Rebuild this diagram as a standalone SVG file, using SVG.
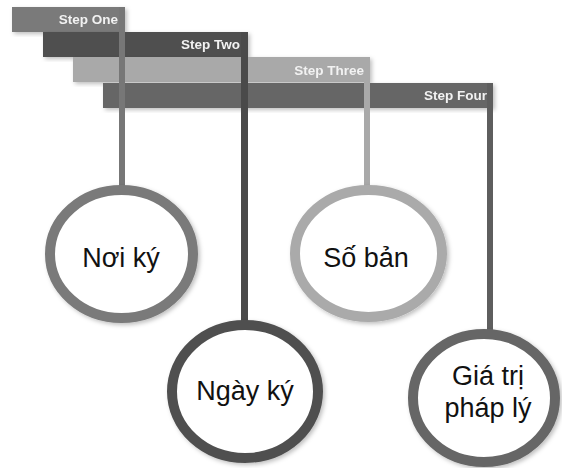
<svg xmlns="http://www.w3.org/2000/svg" width="562" height="468" viewBox="0 0 562 468">
<defs>
<filter id="sh" x="-20%" y="-20%" width="140%" height="140%">
<feDropShadow dx="2" dy="2" stdDeviation="2" flood-color="#000" flood-opacity="0.25"/>
</filter>
</defs>
<style>
.lbl{font-family:"Liberation Sans",Arial,sans-serif;font-weight:bold;font-size:13.5px;fill:#f2f2f2;text-anchor:end}
.ct{font-family:"Liberation Sans",Arial,sans-serif;font-size:27px;fill:#111;text-anchor:middle}
.ring{fill:#fff;stroke-width:10}
</style>
<rect width="562" height="468" fill="#fff"/>
<g id="step1" filter="url(#sh)">
<rect x="12" y="7" width="113" height="25" fill="#7a7a7a"/>
<text class="lbl" x="118" y="24">Step One</text>
</g>
<g id="step2" filter="url(#sh)">
<rect x="43" y="32" width="205" height="25" fill="#505050"/>
<text class="lbl" x="240" y="49">Step Two</text>
</g>
<g id="step3" filter="url(#sh)">
<rect x="73" y="57" width="297" height="25" fill="#a9a9a9"/>
<text class="lbl" x="364" y="75">Step Three</text>
</g>
<g id="step4" filter="url(#sh)">
<rect x="103" y="83" width="390" height="25" fill="#666"/>
<text class="lbl" x="487" y="100">Step Four</text>
</g>
<g id="connectors">
<rect x="119" y="7" width="6" height="180" fill="#777"/>
<rect x="241" y="32" width="7" height="292" fill="#4a4a4a"/>
<rect x="364" y="57" width="6" height="130" fill="#a9a9a9"/>
<rect x="487" y="83" width="6" height="250" fill="#5e5e5e"/>
</g>
<g id="noi-ky">
<ellipse class="ring" cx="121.5" cy="254" rx="71.5" ry="64" stroke="#7a7a7a" filter="url(#sh)"/>
<text class="ct" x="121" y="267">Nơi ký</text>
</g>
<g id="so-ban">
<ellipse class="ring" cx="368.5" cy="253.5" rx="73.5" ry="63.5" stroke="#aaaaaa" filter="url(#sh)"/>
<text class="ct" x="366" y="267">Số bản</text>
</g>
<g id="ngay-ky">
<ellipse class="ring" cx="245" cy="391.5" rx="73" ry="66.5" stroke="#505050" filter="url(#sh)"/>
<text class="ct" x="245" y="400">Ngày ký</text>
</g>
<g id="gia-tri">
<ellipse class="ring" cx="484" cy="398" rx="71" ry="64" stroke="#666" filter="url(#sh)"/>
<text class="ct" x="488" y="385">Giá trị</text>
<text class="ct" x="488" y="417">pháp lý</text>
</g>
</svg>
